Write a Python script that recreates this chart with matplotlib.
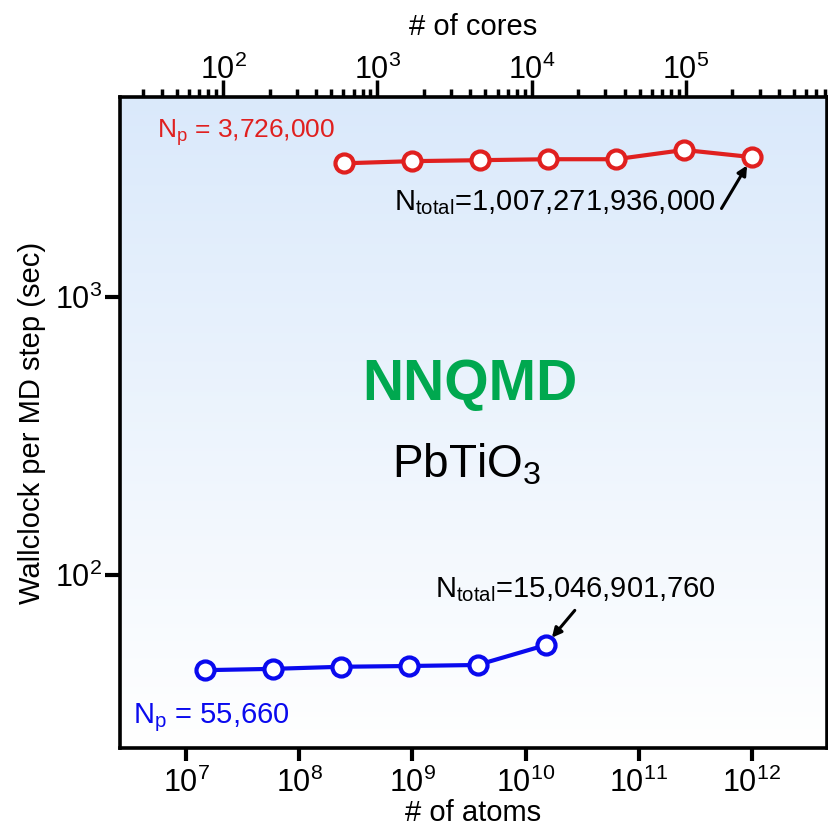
import matplotlib
matplotlib.use("Agg")
import matplotlib.pyplot as plt
import numpy as np

plt.rcParams['font.family'] = ['Liberation Sans', 'DejaVu Sans']
plt.rcParams['mathtext.fontset'] = 'custom'
plt.rcParams['mathtext.rm'] = 'Liberation Sans'
plt.rcParams['mathtext.it'] = 'Liberation Sans'
plt.rcParams['mathtext.bf'] = 'Liberation Sans:bold'

# weak scaling data: number of atoms vs. wallclock per MD step
red_atoms = [2.459e8, 9.837e8, 3.935e9, 1.574e10, 6.295e10, 2.518e11, 1.007e12]
red_time = [3030, 3085, 3110, 3135, 3135, 3385, 3190]
blue_atoms = [1.469e7, 5.878e7, 2.351e8, 9.405e8, 3.762e9, 1.505e10]
blue_time = [45.5, 46.0, 46.8, 47.1, 47.5, 56.0]

red_c = '#e0201f'
blue_c = '#0a0aee'

fig = plt.figure(figsize=(8.29, 8.30), dpi=100)
ax = fig.add_axes([0.1448, 0.0988, 0.8528, 0.7843])

# background gradient (light blue -> white)
grad = np.linspace(0, 1, 256).reshape(-1, 1)
top_col = np.array([0.855, 0.914, 0.984])
img = top_col[None, None, :] * (1 - grad[:, :, None]) + np.ones(3)[None, None, :] * grad[:, :, None]
ax.imshow(img, extent=[0, 1, 0, 1], transform=ax.transAxes, aspect='auto', zorder=0)

ax.set_xscale('log')
ax.set_yscale('log')
ax.set_xlim(10**6.414, 10**12.666)
ax.set_ylim(10**1.378, 10**3.72)

mk = dict(marker='o', markersize=13, markerfacecolor='white', markeredgewidth=3, linewidth=3, zorder=3, clip_on=False)
ax.plot(red_atoms, red_time, color=red_c, markeredgecolor=red_c, **mk)
ax.plot(blue_atoms, blue_time, color=blue_c, markeredgecolor=blue_c, **mk)

ax.set_xticks([10.0**k for k in range(7, 13)])
ax.xaxis.set_minor_locator(matplotlib.ticker.NullLocator())
ax.set_yticks([1e2, 1e3])
ax.yaxis.set_minor_locator(matplotlib.ticker.NullLocator())
ax.tick_params(axis='x', which='major', direction='out', length=9, width=3, labelsize=22, pad=5)
ax.tick_params(axis='y', which='major', direction='out', length=11, width=3, labelsize=22, pad=2)
ax.set_xlabel('# of atoms', fontsize=21, labelpad=0)
ax.set_ylabel('Wallclock per MD step (sec)', fontsize=21, labelpad=6)
for s in ax.spines.values():
    s.set_linewidth(2.6)

# top axis: number of cores
ax2 = ax.twiny()
ax2.set_xscale('log')
ax2.set_xlim(10**1.331, 10**5.914)
ax2.set_xticks([1e2, 1e3, 1e4, 1e5])
ax2.tick_params(which='major', direction='out', length=12, width=2.5, labelsize=22, pad=-4)
ax2.tick_params(which='minor', direction='out', length=6, width=2.5)
ax2.set_xlabel('# of cores', fontsize=21, labelpad=14)

# labels
ax.text(0.052, 0.945, r'N$_\mathrm{p}$ = 3,726,000', color=red_c, fontsize=19,
        transform=ax.transAxes, va='center', ha='left')
ax.text(0.018, 0.046, r'N$_\mathrm{p}$ = 55,660', color=blue_c, fontsize=21,
        transform=ax.transAxes, va='center', ha='left')
ax.text(0.495, 0.558, 'NNQMD', color='#00a84f', fontsize=41, fontweight='bold',
        transform=ax.transAxes, va='center', ha='center')
ax.text(0.49, 0.435, r'PbTiO$_3$', color='black', fontsize=33,
        transform=ax.transAxes, va='center', ha='center')
ax.text(0.387, 0.838, r'N$_\mathrm{total}$=1,007,271,936,000', color='black', fontsize=21,
        transform=ax.transAxes, va='center', ha='left')
ax.text(0.446, 0.243, r'N$_\mathrm{total}$=15,046,901,760', color='black', fontsize=21,
        transform=ax.transAxes, va='center', ha='left')

arrow = dict(arrowstyle='-|>', color='black', lw=2.2, mutation_scale=14, shrinkA=0, shrinkB=7)
ax.annotate('', xy=(red_atoms[-1], red_time[-1]), xytext=(-22, -37), textcoords='offset points', arrowprops=arrow)
ax.annotate('', xy=(blue_atoms[-1], blue_time[-1]), xytext=(21, 25), textcoords='offset points', arrowprops=arrow)

fig.savefig('out.png', dpi=100)
